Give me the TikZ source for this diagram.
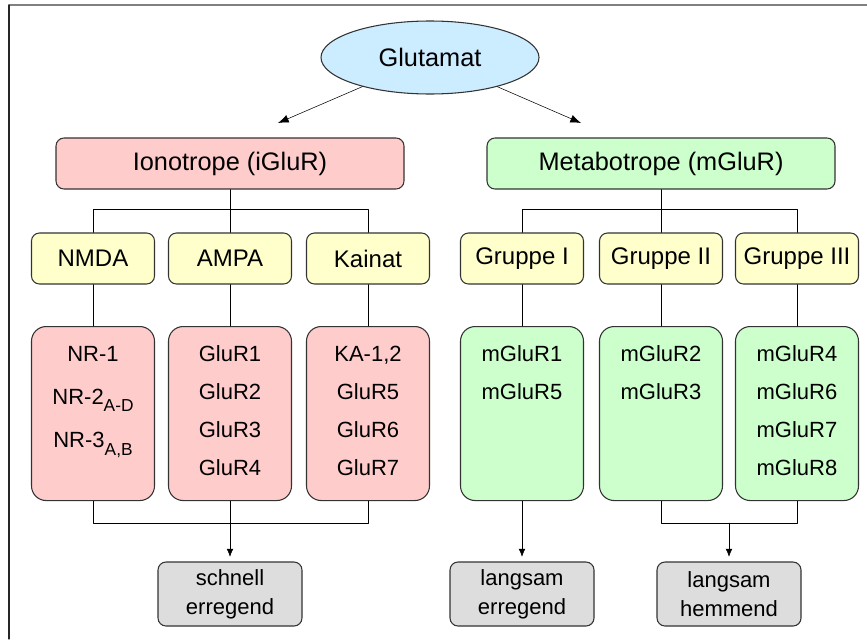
\documentclass[tikz,border=0pt]{standalone}
\usepackage{fontspec}
\setmainfont{Liberation Sans}
\usetikzlibrary{arrows.meta}
\usetikzlibrary{shapes.geometric}
\definecolor{iglu}{HTML}{FFCCCC}
\definecolor{mglu}{HTML}{CCFFCC}
\definecolor{grpyellow}{HTML}{FFFFCC}
\definecolor{effgray}{HTML}{DDDDDD}
\definecolor{glublue}{HTML}{CCECFF}
\definecolor{edge}{HTML}{333333}
\newcommand{\lowidx}[1]{\raisebox{-5.5pt}{\fontsize{13}{13}\selectfont #1}}

\begin{document}
\begin{tikzpicture}[x=0.75pt,y=-0.75pt,line cap=round,line join=round,
  box/.style={draw=edge,line width=0.8pt,rounded corners=6pt,align=center},
  head/.style={box,minimum width=261pt,minimum height=38.25pt,font=\fontsize{19}{23}\selectfont},
  grp/.style={box,fill=grpyellow,minimum width=92.25pt,minimum height=38.25pt,inner sep=0pt,font=\fontsize{18}{22}\selectfont},
  list/.style={box,anchor=north,rounded corners=11pt,text width=92.25pt,inner xsep=0pt,inner ysep=14pt,text height=12pt,text depth=90.5pt,font=\fontsize{16.5}{28.5}\selectfont},
  effect/.style={box,fill=effgray,minimum width=108pt,minimum height=48pt,inner sep=0pt,font=\fontsize{16.5}{21.75}\selectfont},
  arr/.style={-{Latex[length=6pt,width=5pt]}},
  bigarr/.style={-{Latex[length=8pt,width=6pt]}}
]
\useasboundingbox (0,0) rectangle (867,639);
% frame
\draw [gray,line width=0.8pt] (9,5) -- (867,5);
\draw [black!85,line width=0.8pt] (9,5) -- (9,639);

% top
\node [box,ellipse,fill=glublue,inner sep=0pt,minimum width=163.5pt,minimum height=54.75pt,font=\fontsize{19}{23}\selectfont] (glu) at (430,57.5) {Glutamat};
\node [head,fill=iglu] (ion) at (230,163.5) {Ionotrope (iGluR)};
\node [head,fill=mglu] (met) at (661,163.5) {Metabotrope (mGluR)};
\coordinate (ionIn) at (278,123);
\coordinate (metIn) at (581,123);
\draw [bigarr] (glu) -- (ionIn);
\draw [bigarr] (glu) -- (metIn);

% receptor groups
\node [grp] (nmda) at (93,258.5) {NMDA};
\node [grp] (ampa) at (230,258.5) {AMPA};
\node [grp] (kainat) at (368,258.5) {Kainat};
\node [grp] (gI) at (522,258.5) {Gruppe I};
\node [grp] (gII) at (661,258.5) {Gruppe II};
\node [grp] (gIII) at (797,258.5) {Gruppe III};
\draw (ion) -- (ampa);
\draw (nmda.north) -- ++(0,-23) -| (kainat.north);
\draw (met) -- (gII);
\draw (gI.north) -- ++(0,-23) -| (gIII.north);

% subunits
\node [list,fill=iglu] (nmdaL) at (93,326) {NR-1\\[4pt] NR-2\lowidx{A-D}\\[4pt] NR-3\lowidx{A,B}};
\node [list,fill=iglu] (ampaL) at (230,326) {GluR1\\GluR2\\GluR3\\GluR4};
\node [list,fill=iglu] (kainatL) at (368,326) {KA-1,2\\GluR5\\GluR6\\GluR7};
\node [list,fill=mglu] (gIL) at (522,326) {mGluR1\\mGluR5};
\node [list,fill=mglu] (gIIL) at (661,326) {mGluR2\\mGluR3};
\node [list,fill=mglu] (gIIIL) at (797,326) {mGluR4\\mGluR6\\mGluR7\\mGluR8};
\foreach \col in {nmda,ampa,kainat,gI,gII,gIII}
  \draw (\col) -- (\col L);

% effects
\node [effect] (fastex) at (230,594) {schnell\\erregend};
\node [effect] (slowex) at (522,594) {langsam\\erregend};
\node [effect] (slowinh) at (729,594) {langsam\\hemmend};
\draw (nmdaL.south) -- ++(0,22) -| (kainatL.south);
\draw [arr,shorten >=3.5pt] (ampaL) -- (fastex);
\draw [arr,shorten >=3.5pt] (gIL) -- (slowex);
\draw (gIIL.south) -- ++(0,22) coordinate (inhbus) -| (gIIIL.south);
\coordinate (inhjoin) at (inhbus -| slowinh);
\draw [arr,shorten >=3.5pt] (inhjoin) -- (slowinh);
\end{tikzpicture}
\end{document}
